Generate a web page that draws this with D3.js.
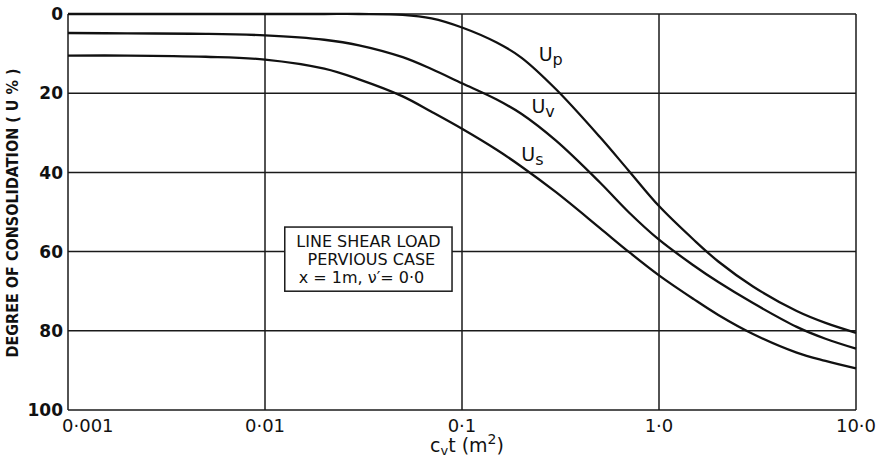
<!DOCTYPE html>
<html>
<head>
<meta charset="utf-8">
<script src="https://cdn.jsdelivr.net/npm/d3@7"></script>
<style>
  body { margin: 0; background: #fff; }
  text { font-family: "DejaVu Sans", sans-serif; fill: #111; }
</style>
</head>
<body>
<div id="chart"></div>
<script>
// consolidation curves
var cvt = [0.001, 0.002, 0.005, 0.01, 0.02, 0.03, 0.05, 0.07, 0.1, 0.15, 0.2, 0.3, 0.5, 0.7, 1, 1.5, 2, 3, 5, 7, 10];
var Up  = [0, 0, 0, 0, 0, 0, 0.2, 1.1, 3.4, 7.2, 11, 19, 31, 39.5, 48.5, 57, 62.5, 68.8, 75, 78, 80.5];
var Uv  = [4.8, 4.9, 5, 5.4, 6.5, 7.9, 10.9, 13.9, 17.5, 21.6, 25.2, 32, 42.5, 50, 57, 63.5, 67.7, 73, 79, 82, 84.5];
var Us  = [10.5, 10.5, 10.8, 11.5, 13.8, 16.5, 20.8, 24.7, 29, 34.3, 38.5, 45, 54, 60, 66, 72, 76, 80.8, 85.5, 87.6, 89.5];

var xTicks = [0.001, 0.01, 0.1, 1, 10];
var xTickLabels = ["0·001", "0·01", "0·1", "1·0", "10·0"];
var yTicks = [0, 20, 40, 60, 80, 100];

var curveLabels = [
    {main: "U", sub: "p", x: 0.245, y: 11.8},
    {main: "U", sub: "v", x: 0.225, y: 25},
    {main: "U", sub: "s", x: 0.2, y: 37}
];
var boxLines = ["LINE SHEAR LOAD", "PERVIOUS CASE", "x = 1m, \u03BD\u2032= 0·0"];

// set the dimensions and margins of the graph
var margin = {top: 14, right: 23, bottom: 49, left: 68},
    width = 879 - margin.left - margin.right,
    height = 459 - margin.top - margin.bottom;

var svg = d3.select("#chart")
    .append("svg")
    .attr("width", 879)
    .attr("height", 459)
    .append("g")
    .attr("transform", `translate(${margin.left},${margin.top})`);

var xScale = d3.scaleLog().domain([0.001, 10]).range([0, width]);
var yScale = d3.scaleLinear().domain([0, 100]).range([0, height]);

// grid
svg.append("g")
    .selectAll("line")
    .data(xTicks)
    .enter().append("line")
    .attr("x1", d => xScale(d)).attr("x2", d => xScale(d))
    .attr("y1", 0).attr("y2", height)
    .attr("stroke", "#1a1a1a").attr("stroke-width", 1.5);

svg.append("g")
    .selectAll("line")
    .data(yTicks)
    .enter().append("line")
    .attr("x1", 0).attr("x2", width)
    .attr("y1", d => yScale(d)).attr("y2", d => yScale(d))
    .attr("stroke", "#1a1a1a").attr("stroke-width", 1.5);

// tick labels
svg.append("g")
    .selectAll("text")
    .data(yTicks)
    .enter().append("text")
    .attr("x", -5)
    .attr("y", d => yScale(d))
    .attr("dy", "0.36em")
    .attr("text-anchor", "end")
    .style("font-size", "17px")
    .style("font-weight", "bold")
    .text(d => d);

svg.append("g")
    .selectAll("text")
    .data(xTicks)
    .enter().append("text")
    .attr("x", (d, i) => i == 0 ? xScale(d) - 6 : xScale(d))
    .attr("y", height + 22)
    .attr("text-anchor", (d, i) => i == 0 ? "start" : "middle")
    .style("font-size", "18px")
    .text((d, i) => xTickLabels[i]);

// axis titles
var xt = svg.append("text")
    .attr("x", width / 2 + 5)
    .attr("y", height + 42)
    .attr("text-anchor", "middle")
    .style("font-size", "19px");
xt.append("tspan").text("c");
xt.append("tspan").attr("dy", 3).style("font-size", "13px").text("v");
xt.append("tspan").attr("dy", -3).text("t (m");
xt.append("tspan").attr("dy", -8).style("font-size", "14px").text("2");
xt.append("tspan").attr("dy", 8).text(")");

svg.append("text")
    .attr("transform", `translate(${-50},${height / 2 + 1}) rotate(-90)`)
    .attr("text-anchor", "middle")
    .style("font-family", "'DejaVu Sans Condensed', 'DejaVu Sans', sans-serif")
    .style("font-size", "16px")
    .style("font-weight", "bold")
    .text("DEGREE OF CONSOLIDATION ( U % )");

// curves
var line = d3.line()
    .curve(d3.curveCatmullRom.alpha(0.5))
    .x(d => xScale(d[0]))
    .y(d => yScale(d[1]));

[Up, Uv, Us].forEach(function(series) {
    svg.append("path")
        .datum(cvt.map((c, i) => [c, series[i]]))
        .attr("fill", "none")
        .attr("stroke", "#111")
        .attr("stroke-width", 2.3)
        .attr("d", line);
});

// curve labels
curveLabels.forEach(function(l) {
    var t = svg.append("text")
        .attr("x", xScale(l.x))
        .attr("y", yScale(l.y))
        .style("font-size", "19px");
    t.append("tspan").text(l.main);
    t.append("tspan").attr("dy", 4).style("font-size", "16px").text(l.sub);
});

// legend box
var bx0 = xScale(0.0126), bx1 = xScale(0.089);
var by0 = yScale(53.8), by1 = yScale(70);
svg.append("rect")
    .attr("x", bx0).attr("y", by0)
    .attr("width", bx1 - bx0).attr("height", by1 - by0)
    .attr("fill", "#fff")
    .attr("stroke", "#1a1a1a").attr("stroke-width", 1.5);

svg.append("g")
    .selectAll("text")
    .data(boxLines)
    .enter().append("text")
    .attr("x", (d, i) => i == 2 ? bx0 + 14 : (bx0 + bx1) / 2 + (i == 1 ? 3 : 0))
    .attr("y", (d, i) => by0 + 20 + i * 18)
    .attr("text-anchor", (d, i) => i == 2 ? "start" : "middle")
    .style("font-size", "16px")
    .text(d => d);
</script>
</body>
</html>
